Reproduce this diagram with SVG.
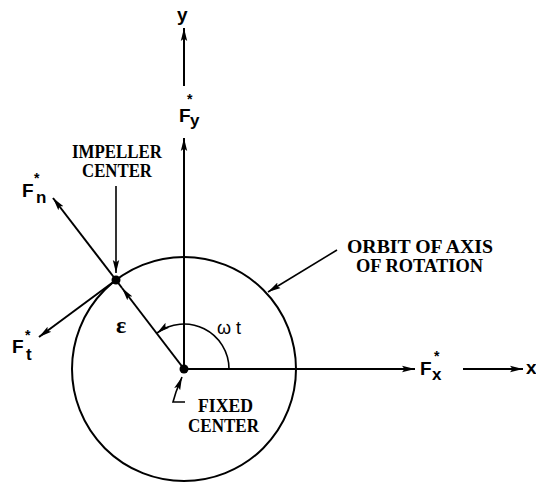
<svg xmlns="http://www.w3.org/2000/svg" width="536" height="485" viewBox="0 0 536 485">
<style>
.ln{stroke:#000;stroke-width:2;fill:none}
.thin{stroke:#000;stroke-width:1.6;fill:none}
.lbl{font-family:"Liberation Serif",serif;font-weight:bold;font-size:19px;fill:#000}
.f{font-family:"Liberation Sans",sans-serif;font-weight:bold;font-size:19px;fill:#000}
.sub{font-family:"Liberation Sans",sans-serif;font-weight:bold;font-size:17px;fill:#000}
.st{font-family:"Liberation Sans",sans-serif;font-size:14px;font-weight:bold;fill:#000}
.gr{font-family:"Liberation Sans",sans-serif;font-size:18px;fill:#000}
</style>
<defs>
<marker id="ah" markerUnits="userSpaceOnUse" markerWidth="14" markerHeight="8" refX="13" refY="4" orient="auto">
<path d="M0,0.8 L13,4 L0,7.2 L2.5,4 z" fill="#000"/>
</marker>
</defs>
<rect width="536" height="485" fill="#fff"/>
<g id="orbit">
<circle cx="184" cy="369" r="112" class="ln"/>
<text class="lbl" x="347" y="253" textLength="146" lengthAdjust="spacingAndGlyphs">ORBIT OF AXIS</text>
<text class="lbl" x="356" y="272" textLength="127" lengthAdjust="spacingAndGlyphs">OF ROTATION</text>
</g>
<g id="fixed-center">
<circle cx="184" cy="369" r="4.5" fill="#000"/>
<text class="lbl" x="198" y="412" textLength="55" lengthAdjust="spacingAndGlyphs">FIXED</text>
<text class="lbl" x="188" y="432" textLength="71" lengthAdjust="spacingAndGlyphs">CENTER</text>
</g>
<g id="impeller-center">
<circle cx="116" cy="280" r="4.5" fill="#000"/>
<text class="lbl" x="72" y="158" textLength="90" lengthAdjust="spacingAndGlyphs">IMPELLER</text>
<text class="lbl" x="82" y="177" textLength="70" lengthAdjust="spacingAndGlyphs">CENTER</text>
</g>
<g id="label-y">
<text class="f" x="177" y="21">y</text>
</g>
<g id="label-x">
<text class="f" x="526" y="374">x</text>
</g>
<g id="force-Fy">
<text class="f" x="179" y="122">F</text>
<text class="sub" x="190" y="126">y</text>
<text class="st" x="187" y="104">*</text>
</g>
<g id="force-Fx">
<text class="f" x="420" y="375">F</text>
<text class="sub" x="432" y="380">x</text>
<text class="st" x="434" y="361">*</text>
</g>
<g id="force-Fn">
<text class="f" x="22" y="197">F</text>
<text class="sub" x="36" y="203">n</text>
<text class="st" x="34" y="183">*</text>
</g>
<g id="force-Ft">
<text class="f" x="12" y="353">F</text>
<text class="sub" x="26" y="360">t</text>
<text class="st" x="25" y="340">*</text>
</g>
<g id="label-eps">
<text x="116" y="333" style="font-family:'Liberation Serif',serif;font-size:24px;font-weight:bold">ε</text>
</g>
<g id="label-wt">
<text class="gr" x="217" y="334">ω t</text>
</g>
<g id="connectors">
<path class="ln" d="M184,369 L184,138" marker-end="url(#ah)"/>
<path class="ln" d="M184,86 L184,28" marker-end="url(#ah)"/>
<path class="ln" d="M184,369 L415,369" marker-end="url(#ah)"/>
<path class="ln" d="M463,369 L523,369" marker-end="url(#ah)"/>
<path class="ln" d="M184,369 L122,288" marker-end="url(#ah)"/>
<path class="ln" d="M122,288 L116,280"/>
<path class="ln" d="M116,280 L53,198" marker-end="url(#ah)"/>
<path class="ln" d="M116,280 L39,337" marker-end="url(#ah)"/>
<path class="thin" d="M116,186 L116,273" marker-end="url(#ah)"/>
<path class="thin" d="M337,250 L268,292" marker-end="url(#ah)"/>
<path class="thin" d="M185,402 L173,402 L176,392 L182,377" marker-end="url(#ah)"/>
<path class="thin" d="M229,369 A45,45 0 0 0 157,333" marker-end="url(#ah)"/>
</g>
</svg>
